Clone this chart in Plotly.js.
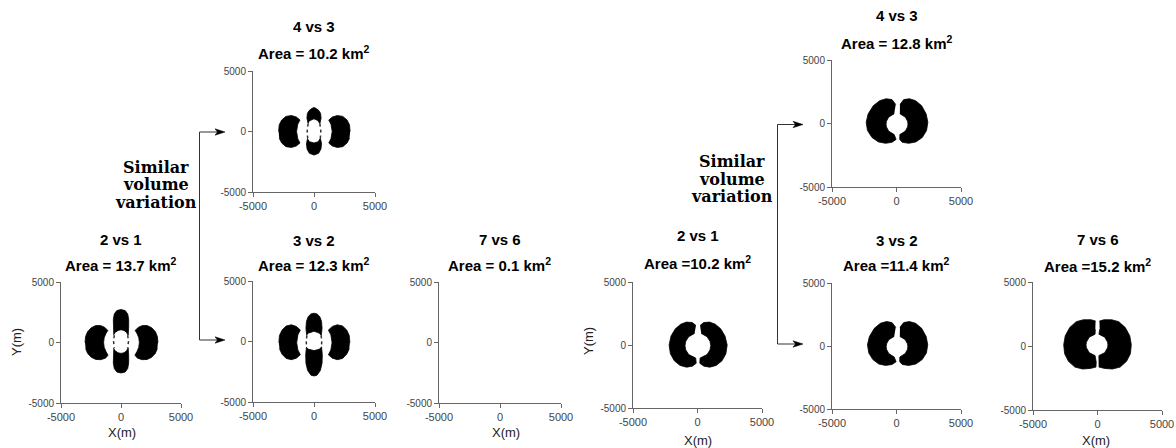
<!DOCTYPE html>
<html><head><meta charset="utf-8">
<script src="https://cdn.plot.ly/plotly-3.0.1.min.js"></script>
<style>html,body{margin:0;padding:0;background:#fff;} #chart{width:1176px;height:448px;}</style>
</head><body><div id="chart"></div>
<script>
// ---------- data ----------
const panelNames = ['2 vs 1','4 vs 3','3 vs 2','7 vs 6','2 vs 1','4 vs 3','3 vs 2','7 vs 6'];
const panelAreas = [13.7, 10.2, 12.3, 0.1, 10.2, 12.8, 11.4, 15.2];
const areaSep = ['= ','= ','= ','= ','=','= ','=','='];
const tickVals = [-5000, 0, 5000];
const tickText = ['-5000', '0', '5000'];
const axisRange = [-5000, 5000];
const noteLines = ['Similar', 'volume', 'variation'];

// anomaly outlines (metres)
const A_left = [[-3000,0],[-2950,500],[-2780,900],[-2480,1220],[-2100,1400],[-1700,1400],[-1350,1250],[-1100,1000],[-1250,750],[-1400,400],[-1450,0],[-1400,-400],[-1250,-750],[-1080,-1050],[-1300,-1300],[-1700,-1420],[-2100,-1400],[-2480,-1220],[-2780,-900],[-2950,-500]];
const A_right = [[3080,0],[3030,500],[2860,900],[2560,1220],[2180,1400],[1780,1400],[1430,1250],[1180,1000],[1330,750],[1480,400],[1530,0],[1480,-400],[1330,-750],[1160,-1050],[1380,-1300],[1780,-1420],[2180,-1400],[2560,-1220],[2860,-900],[3030,-500]];
const A_top = [[-600,600],[-640,1300],[-640,1900],[-560,2350],[-350,2640],[0,2720],[350,2640],[560,2350],[640,1900],[640,1300],[600,600],[450,850],[250,1000],[0,1050],[-250,1000],[-450,850]];
const A_bottom = [[-600,-450],[-640,-1100],[-640,-1700],[-560,-2150],[-350,-2440],[0,-2520],[350,-2440],[560,-2150],[640,-1700],[640,-1100],[600,-450],[450,-700],[250,-850],[0,-900],[-250,-850],[-450,-700]];
const A_walls = [[-560,600],[-620,75],[-560,-450],null,[560,600],[620,75],[560,-450]];

const B_left = [[-2900,0],[-2850,550],[-2650,950],[-2300,1250],[-1850,1320],[-1450,1200],[-1150,950],[-1330,600],[-1430,0],[-1330,-600],[-1150,-950],[-1450,-1200],[-1850,-1320],[-2300,-1250],[-2650,-950],[-2850,-550]];
const B_right = [[2960,0],[2910,550],[2710,950],[2360,1250],[1910,1320],[1510,1200],[1210,950],[1390,600],[1490,0],[1390,-600],[1210,-950],[1510,-1200],[1910,-1320],[2360,-1250],[2710,-950],[2910,-550]];
const B_top = [[-480,650],[-580,1100],[-540,1500],[-380,1750],[-150,1920],[0,1980],[150,1920],[380,1750],[540,1500],[580,1100],[480,650],[320,900],[0,1050],[-320,900]];
const B_bottom = [[-520,-550],[-620,-1000],[-570,-1450],[-380,-1800],[0,-1950],[380,-1800],[570,-1450],[620,-1000],[520,-550],[340,-850],[0,-950],[-340,-850]];
const B_walls = [[-480,650],[-560,50],[-520,-550],null,[480,650],[560,50],[520,-550]];

const C_left = [[-2880,-100],[-2830,500],[-2620,950],[-2280,1280],[-1850,1380],[-1450,1250],[-1120,950],[-1320,550],[-1420,-100],[-1320,-700],[-1120,-1100],[-1450,-1380],[-1850,-1500],[-2280,-1400],[-2620,-1050],[-2830,-600]];
const C_right = [[2940,-100],[2890,500],[2680,950],[2340,1280],[1910,1380],[1510,1250],[1180,950],[1380,550],[1480,-100],[1380,-700],[1180,-1100],[1510,-1380],[1910,-1500],[2340,-1400],[2680,-1050],[2890,-600]];
const C_top = [[-600,500],[-660,1100],[-620,1650],[-480,2050],[-250,2280],[0,2340],[250,2280],[480,2050],[620,1650],[660,1100],[600,500],[420,700],[0,850],[-420,700]];
const C_bottom = [[-620,-450],[-680,-1100],[-660,-1800],[-520,-2400],[-250,-2780],[0,-2850],[250,-2780],[520,-2400],[660,-1800],[680,-1100],[620,-450],[420,-650],[0,-750],[-420,-650]];
const C_walls = [[-580,500],[-640,25],[-600,-450],null,[580,500],[640,25],[600,-450]];

const E_left = [[-120,1550],[-400,1780],[-850,1820],[-1300,1650],[-1720,1280],[-2050,720],[-2200,0],[-2100,-700],[-1800,-1250],[-1350,-1620],[-850,-1760],[-400,-1680],[-100,-1450],[-140,-1035],[-680,-760],[-910,-390],[-970,-50],[-910,290],[-680,660],[-230,920]];
const E_right = [[200,1550],[480,1780],[930,1820],[1380,1650],[1800,1280],[2130,720],[2300,0],[2200,-700],[1900,-1250],[1450,-1620],[950,-1760],[500,-1680],[180,-1450],[200,-1035],[740,-760],[970,-390],[1030,-50],[970,290],[740,660],[290,920]];

const F_left = [[-60,1500],[-350,1880],[-800,1950],[-1300,1800],[-1800,1400],[-2200,750],[-2350,100],[-2250,-550],[-1900,-1100],[-1400,-1450],[-850,-1560],[-350,-1480],[-30,-1250],[-180,-870],[-610,-600],[-780,-270],[-810,-50],[-780,170],[-610,500],[-180,770]];
const F_right = [[270,1500],[560,1880],[1000,1950],[1480,1800],[1950,1400],[2300,750],[2430,100],[2330,-550],[2000,-1100],[1500,-1450],[950,-1560],[450,-1480],[250,-1250],[260,-870],[690,-600],[860,-270],[890,-50],[860,170],[690,500],[260,770]];

const G_left = [[-60,1480],[-350,1860],[-780,1940],[-1250,1800],[-1720,1400],[-2100,750],[-2250,100],[-2150,-550],[-1830,-1080],[-1370,-1430],[-850,-1540],[-350,-1470],[-30,-1250],[-180,-870],[-600,-600],[-770,-270],[-800,-50],[-770,170],[-600,500],[-180,760]];
const G_right = [[270,1480],[560,1860],[1000,1940],[1480,1800],[1950,1400],[2300,750],[2420,100],[2320,-550],[1990,-1080],[1500,-1430],[950,-1540],[450,-1470],[250,-1250],[260,-870],[680,-600],[850,-270],[880,-50],[850,170],[680,500],[260,760]];

const H_left = [[-150,1950],[-500,2050],[-1100,2050],[-1650,1900],[-2150,1450],[-2500,800],[-2620,100],[-2550,-600],[-2250,-1200],[-1750,-1650],[-1150,-1800],[-550,-1750],[-120,-1650],[-100,-1250],[-190,-750],[-640,-520],[-860,-135],[-890,85],[-860,305],[-640,690],[-190,920],[-170,1300]];
const H_right = [[150,1950],[500,2050],[1100,2050],[1650,1900],[2150,1450],[2500,800],[2620,100],[2550,-600],[2250,-1200],[1750,-1650],[1150,-1800],[550,-1750],[120,-1650],[100,-1250],[110,-750],[560,-520],[780,-135],[810,85],[780,305],[560,690],[110,920],[170,1300]];

const panelBlobs = [
  [A_left, A_top, A_bottom, A_right],
  [B_left, B_top, B_bottom, B_right],
  [C_left, C_top, C_bottom, C_right],
  [],
  [E_left, E_right],
  [F_left, F_right],
  [G_left, G_right],
  [H_left, H_right]
];
const panelWalls = [A_walls, B_walls, C_walls, null, null, null, null, null];

// ---------- layout geometry (pixels) ----------
const W = 1176, H = 448;
const px = v => v / W, py = v => 1 - v / H;
const boxes = [[61,181,282,403],[253,375,71,192],[253,375,281,402],[439,561,282,403],
               [633,762,282,408],[832,961,60,187],[832,961,283,409],[1033,1162,282,410]];
const titleY = [[239,264],[27,52],[240,264],[239,264],[235,262],[15,42],[240,264],[239,265]];

const traces = [];
const layout = {
  width: W, height: H, margin: {l:0, r:0, t:0, b:0},
  paper_bgcolor: '#fff', plot_bgcolor: '#fff', showlegend: false,
  annotations: [], shapes: []
};
const baseFam = 'Liberation Sans, Arial, sans-serif';

boxes.forEach((b, i) => {
  const n = i + 1, sfx = n === 1 ? '' : String(n);
  const common = {
    range: axisRange, tickvals: tickVals, ticktext: tickText,
    showline: true, linecolor: '#666', linewidth: 1,
    ticks: 'outside', ticklen: 4, tickcolor: '#666', tickwidth: 1,
    showgrid: false, zeroline: false, fixedrange: true
  };
  layout['xaxis' + sfx] = Object.assign({}, common, {domain: [px(b[0]), px(b[1])], anchor: 'y' + sfx,
    tickfont: {family: baseFam, size: 11, color: '#444'}});
  layout['yaxis' + sfx] = Object.assign({}, common, {domain: [py(b[3]), py(b[2])], anchor: 'x' + sfx,
    tickfont: {family: baseFam, size: 10, color: '#444'}});

  const blobs = panelBlobs[i];
  if (blobs.length === 0) {
    traces.push({type: 'scatter', mode: 'markers', x: [], y: [], xaxis: 'x' + sfx, yaxis: 'y' + sfx, hoverinfo: 'skip'});
  }
  blobs.forEach(poly => {
    traces.push({
      type: 'scatter', mode: 'lines', fill: 'toself', fillcolor: '#000',
      x: poly.map(p => p[0]), y: poly.map(p => p[1]),
      line: {color: '#000', width: 0.8},
      xaxis: 'x' + sfx, yaxis: 'y' + sfx, hoverinfo: 'skip'
    });
  });
  const walls = panelWalls[i];
  if (walls) {
    traces.push({
      type: 'scatter', mode: 'lines',
      x: walls.map(p => p ? p[0] : null), y: walls.map(p => p ? p[1] : null),
      line: {color: '#333', width: 1.5, dash: 'dot'},
      xaxis: 'x' + sfx, yaxis: 'y' + sfx, hoverinfo: 'skip'
    });
  }
  const cx = (b[0] + b[1]) / 2;
  const tf = {family: baseFam, size: 15, color: '#000', weight: 'bold'};
  layout.annotations.push({xref:'paper', yref:'paper', x: px(cx), y: py(titleY[i][0]), xanchor:'center', yanchor:'middle',
    text: panelNames[i], showarrow: false, font: tf});
  layout.annotations.push({xref:'paper', yref:'paper', x: px(cx), y: py(titleY[i][1]), xanchor:'center', yanchor:'middle',
    text: 'Area ' + areaSep[i] + panelAreas[i].toFixed(1) + ' km<sup>2</sup>', showarrow: false, font: tf});
});

// axis titles
const labFont = {family: baseFam, size: 13, color: '#222'};
[[121.5,432],[506,432],[698,440],[1096,440]].forEach(p => {
  layout.annotations.push({xref:'paper', yref:'paper', x: px(p[0]), y: py(p[1]), xanchor:'center', yanchor:'middle',
    text: 'X(m)', showarrow: false, font: labFont});
});
[[16,342],[588,341]].forEach(p => {
  layout.annotations.push({xref:'paper', yref:'paper', x: px(p[0]), y: py(p[1]), xanchor:'center', yanchor:'middle',
    text: 'Y(m)', textangle: -90, showarrow: false, font: labFont});
});

// "Similar volume variation" notes
const noteFont = {family: 'DejaVu Serif, Liberation Serif, serif', size: 16, color: '#000', weight: 'bold'};
[[156,[167,184.5,202]],[732,[162,179.5,197]]].forEach(g => {
  noteLines.forEach((t, k) => {
    layout.annotations.push({xref:'paper', yref:'paper', x: px(g[0]), y: py(g[1][k]), xanchor:'center', yanchor:'middle',
      text: t, showarrow: false, font: noteFont});
  });
});

// connector arrows
function connector(xv, yTop, yBot, tip) {
  const lc = {color: '#333', width: 1};
  layout.shapes.push({type:'line', xref:'paper', yref:'paper', x0: px(xv), x1: px(xv), y0: py(yTop), y1: py(yBot), line: lc});
  [yTop, yBot].forEach(yy => {
    layout.shapes.push({type:'line', xref:'paper', yref:'paper', x0: px(xv), x1: px(tip - 6), y0: py(yy), y1: py(yy), line: lc});
    layout.shapes.push({type:'path', xref:'paper', yref:'paper',
      path: `M ${px(tip)} ${py(yy)} L ${px(tip-10)} ${py(yy-3.2)} L ${px(tip-7.5)} ${py(yy)} L ${px(tip-10)} ${py(yy+3.2)} Z`,
      fillcolor: '#000', line: {color: '#000', width: 0.5}});
  });
}
connector(199.5, 132, 340, 225);
connector(777.5, 124.5, 344, 803);

Plotly.newPlot('chart', traces, layout, {staticPlot: true, displayModeBar: false});
</script>
</body></html>
